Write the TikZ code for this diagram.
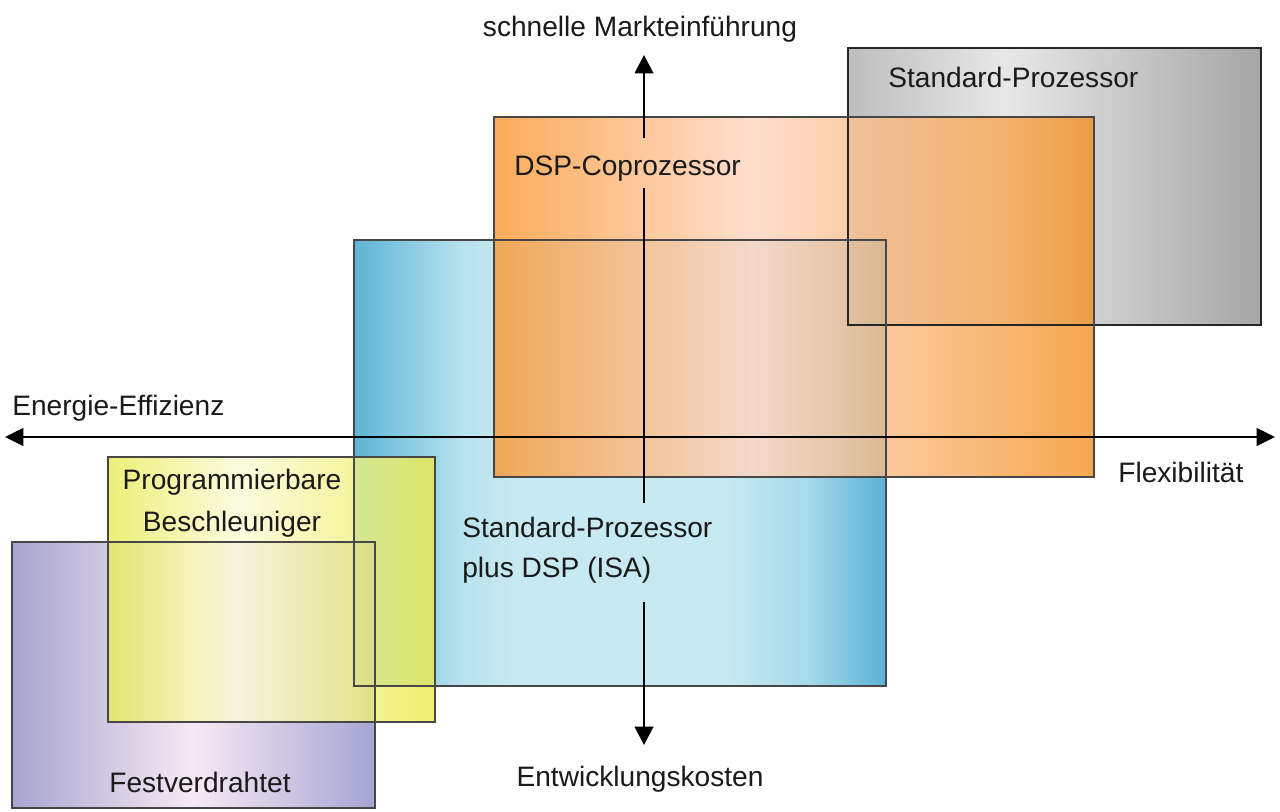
\documentclass[tikz,border=0pt]{standalone}
\usepackage{fontspec}
\setmainfont{Liberation Sans}
\usetikzlibrary{arrows.meta}
\definecolor{gr1}{HTML}{BEBEBE}\definecolor{gr2}{HTML}{E8E8E8}\definecolor{gr3}{HTML}{A6A6A6}
\definecolor{or1}{HTML}{FB9731}\definecolor{or2}{HTML}{FFD6C2}\definecolor{or3}{HTML}{F39224}
\definecolor{bl1}{HTML}{34A2CC}\definecolor{blm}{HTML}{A6DBEA}\definecolor{bl2}{HTML}{BAE5EF}\definecolor{bln}{HTML}{92D1E5}\definecolor{bl3}{HTML}{31A0CC}
\definecolor{pu1}{HTML}{9290C4}\definecolor{pu2}{HTML}{F6E5F2}\definecolor{pu3}{HTML}{9090C9}
\definecolor{ye1}{HTML}{E9EC56}\definecolor{ye2}{HTML}{FBFBD9}\definecolor{ye3}{HTML}{ECEC4A}
\definecolor{ink}{HTML}{1A1A1A}
\pgfdeclarehorizontalshading{grayshade}{100bp}{color(0bp)=(gr1); color(25bp)=(gr1); color(44bp)=(gr2); color(75bp)=(gr3); color(100bp)=(gr3)}
\pgfdeclarehorizontalshading{orangeshade}{100bp}{color(0bp)=(or1); color(25bp)=(or1); color(46.5bp)=(or2); color(75bp)=(or3); color(100bp)=(or3)}
\pgfdeclarehorizontalshading{blueshade}{100bp}{color(0bp)=(bl1); color(25bp)=(bl1); color(35bp)=(blm); color(40bp)=(bl2); color(60bp)=(bl2); color(67.5bp)=(bln); color(75bp)=(bl3); color(100bp)=(bl3)}
\pgfdeclarehorizontalshading{purpleshade}{100bp}{color(0bp)=(pu1); color(25bp)=(pu1); color(50bp)=(pu2); color(75bp)=(pu3); color(100bp)=(pu3)}
\pgfdeclarehorizontalshading{yellowshade}{100bp}{color(0bp)=(ye1); color(25bp)=(ye1); color(45bp)=(ye2); color(75bp)=(ye3); color(100bp)=(ye3)}
\begin{document}
\begin{tikzpicture}[x=0.02cm, y=-0.02cm,
  frame/.style={draw=black!72, line width=1.1pt},
  lbl/.style={font=\fontsize{16}{22.7}\selectfont, inner sep=0pt, text=ink},
  axis/.style={line width=1.6pt, draw=black},
  tipend/.style={-{Triangle[length=10.5pt,width=10.5pt]}},
  tipboth/.style={{Triangle[length=10.5pt,width=10pt]}-{Triangle[length=10.5pt,width=10pt]}}]
\useasboundingbox[fill=white] (0,0) rectangle (1280,811);
% box fills
\shade[shading=grayshade] (848,48) rectangle (1261,325);
\shade[shading=blueshade, fill opacity=0.8] (354,240) rectangle (886,686);
\shade[shading=orangeshade, fill opacity=0.8] (494,117) rectangle (1094,477);
\shade[shading=purpleshade, fill opacity=0.8] (12,542) rectangle (375,808);
\shade[shading=yellowshade, fill opacity=0.8] (108,457) rectangle (435,722);
% box frames
\draw[frame, draw=black!85, line width=1.5pt] (848,48) rectangle (1261,325);
\draw[frame] (354,240) rectangle (886,686);
\draw[frame] (494,117) rectangle (1094,477);
\draw[frame] (12,542) rectangle (375,808);
\draw[frame] (108,457) rectangle (435,722);
% axes
\coordinate (hL) at (5,437);
\coordinate (hR) at (1275,437);
\coordinate (vT) at (644,55);
\coordinate (v1) at (644,138);
\coordinate (v2) at (644,188);
\coordinate (v3) at (644,503);
\coordinate (v4) at (644,602);
\coordinate (vB) at (644,745);
\draw[axis, tipboth] (hL) -- (hR);
\draw[axis, tipend] (v1) -- (vT);
\draw[axis] (v2) -- (v3);
\draw[axis, tipend] (v4) -- (vB);
% labels
\node[lbl, anchor=base] (lTop) at (640,37) {schnelle Markteinführung};
\node[lbl, anchor=base west] (lStd) at (888,88) {Standard-Prozessor};
\node[lbl, anchor=base west] (lDSP) at (514,175) {DSP-Coprozessor};
\node[lbl, anchor=base west] (lEnergy) at (12,415) {Energie-Effizienz};
\node[lbl, anchor=base west] (lFlex) at (1118,482) {Flexibilität};
\node[lbl, anchor=base west, align=left] (lISA) at (462,577) {Standard-Prozessor\\plus DSP (ISA)};
\node[lbl, anchor=base, align=center] (lProg) at (232,531) {Programmierbare\\[1pt]Beschleuniger};
\node[lbl, anchor=base] (lFest) at (200,792) {Festverdrahtet};
\node[lbl, anchor=base] (lCost) at (640,786) {Entwicklungskosten};
\end{tikzpicture}
\end{document}
